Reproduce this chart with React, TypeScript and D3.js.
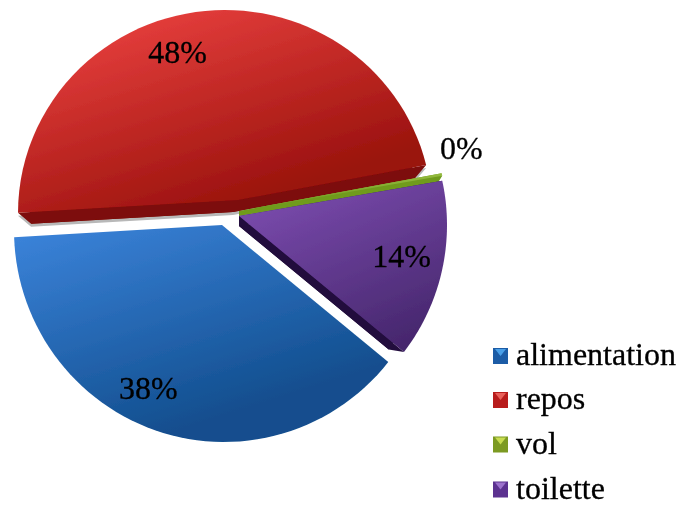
import React from "react";
import * as d3 from "d3";

const categories = ["alimentation", "repos", "vol", "toilette"];
const values = [38.1, 48.0, 0.2, 13.7];
const labels = ["38%", "48%", "0%", "14%"];

const START = (129.5 * Math.PI) / 180;
type Geo = { ax: number; ay: number; cx: number; cy: number; rx: number; ry: number };
const front: Geo[] = [
  { ax: 222, ay: 225, cx: 224, cy: 230, rx: 210, ry: 212 },
  { ax: 238, ay: 200, cx: 225, cy: 213, rx: 207, ry: 203 },
  { ax: 239, ay: 211, cx: 240, cy: 220, rx: 207, ry: 208 },
  { ax: 239, ay: 216, cx: 240, cy: 225, rx: 207, ry: 208 },
];
const back: (Geo | null)[] = [
  null,
  { ax: 233, ay: 212, cx: 225, cy: 218, rx: 194, ry: 196 },
  { ax: 239, ay: 216, cx: 240, cy: 224, rx: 203, ry: 208 },
  { ax: 239, ay: 226, cx: 236, cy: 226, rx: 194, ry: 200 },
];
const sideColors = ["#123f70", "#7d0c07", "#6f9b1e", "#210b3c"];
const grads = [
  { id: "g0", x1: 60, y1: 225, x2: 130, y2: 445, a: "#3a82d8", b: "#124e8e" },
  { id: "g1", x1: 90, y1: 40, x2: 150, y2: 232, a: "#e23c3a", b: "#9a120d" },
  { id: "g2", x1: 240, y1: 210, x2: 440, y2: 180, a: "#6c981d", b: "#92b93c" },
  { id: "g3", x1: 330, y1: 185, x2: 400, y2: 350, a: "#7648a8", b: "#45266c" },
];
const labelNudge = [[-20, 2], [-42, 7], [60, -30], [0, 1]];
const legendFill = [
  ["#1b5ca6", "#4a9fe8"],
  ["#b81f1c", "#e8605a"],
  ["#7c9a24", "#c8dc50"],
  ["#5b3290", "#9c72cc"],
];
const legendRows = [356, 400, 444.5, 489.5];
const shadowColor = "#b8b8b8";

function ray(g: Geo, t: number): [number, number] {
  const s = Math.sin(t), c = -Math.cos(t);
  const ox = (g.ax - g.cx) / g.rx, oy = (g.ay - g.cy) / g.ry;
  const dx = s / g.rx, dy = c / g.ry;
  const A = dx * dx + dy * dy, B = 2 * (ox * dx + oy * dy), C = ox * ox + oy * oy - 1;
  const k = (-B + Math.sqrt(B * B - 4 * A * C)) / (2 * A);
  return [g.ax + k * s, g.ay + k * c];
}

function slicePath(g: Geo, a0: number, a1: number): string {
  const ts = d3.range(0, 61).map((i) => a0 + ((a1 - a0) * i) / 60);
  const pts: [number, number][] = [[g.ax, g.ay], ...ts.map((t) => ray(g, t))];
  return (d3.line() as any)(pts) + "Z";
}

// the two side walls joining each cut edge of a slice to its lower, smaller copy
function wallPath(f: Geo, b: Geo, a0: number, a1: number): string {
  const line = d3.line() as any;
  const wall = (t: number) =>
    line([ray(f, t), [f.ax, f.ay], [b.ax, b.ay], ray(b, t)]) + "Z";
  return wall(a0) + wall(a1);
}

export default function App() {
  const arcs = d3
    .pie<number>()
    .sort(null)
    .startAngle(START)
    .endAngle(START + 2 * Math.PI)(values);
  return (
    <svg
      width={683}
      height={505}
      style={{ position: "absolute", left: 0, top: 0, display: "block", background: "#fff" }}
      fontFamily="'Liberation Serif', serif"
    >
      <defs>
        {grads.map((g) => (
          <linearGradient key={g.id} id={g.id} gradientUnits="userSpaceOnUse" x1={g.x1} y1={g.y1} x2={g.x2} y2={g.y2}>
            <stop offset="0" stopColor={g.a} />
            <stop offset="1" stopColor={g.b} />
          </linearGradient>
        ))}
        <filter id="soft" x="-5%" y="-5%" width="110%" height="110%">
          <feGaussianBlur stdDeviation="0.45" />
        </filter>
      </defs>
      <g filter="url(#soft)">
        <g transform="translate(0,3)" fill={shadowColor}>
          <path d={wallPath(front[1], back[1]!, arcs[1].startAngle, arcs[1].endAngle)} />
        </g>
        {arcs.map((a, i) =>
          back[i] ? (
            <g key={"b" + i} fill={sideColors[i]}>
              <path d={slicePath(back[i]!, a.startAngle, a.endAngle)} />
              <path d={wallPath(front[i], back[i]!, a.startAngle, a.endAngle)} />
            </g>
          ) : null
        )}
        {arcs.map((a, i) => (
          <path key={"f" + i} d={slicePath(front[i], a.startAngle, a.endAngle)} fill={`url(#g${i})`} />
        ))}
        {arcs.map((a, i) => {
          const mid = (a.startAngle + a.endAngle) / 2;
          const [ex, ey] = ray(front[i], mid);
          const x = front[i].ax + 0.8 * (ex - front[i].ax) + labelNudge[i][0];
          const y = front[i].ay + 0.8 * (ey - front[i].ay) + labelNudge[i][1];
          return (
            <text key={"l" + i} x={x} y={y} textAnchor="middle" dominantBaseline="middle" fontSize={32} fill="#000" stroke="#000" strokeWidth={0.3}>
              {labels[i]}
            </text>
          );
        })}
        {categories.map((c, i) => {
          const y = legendRows[i];
          const x0 = 493, x1 = 508;
          return (
            <g key={c}>
              <rect x={x0} y={y - 8} width={x1 - x0} height={16} fill={legendFill[i][0]} />
              <path d={`M${x0 + 2},${y - 7}L${x1 - 2},${y - 7}L${(x0 + x1) / 2},${y}Z`} fill={legendFill[i][1]} />
              <text x={516} y={y + 2} dominantBaseline="middle" fontSize={32} fill="#000" stroke="#000" strokeWidth={0.3}>
                {c}
              </text>
            </g>
          );
        })}
      </g>
    </svg>
  );
}
